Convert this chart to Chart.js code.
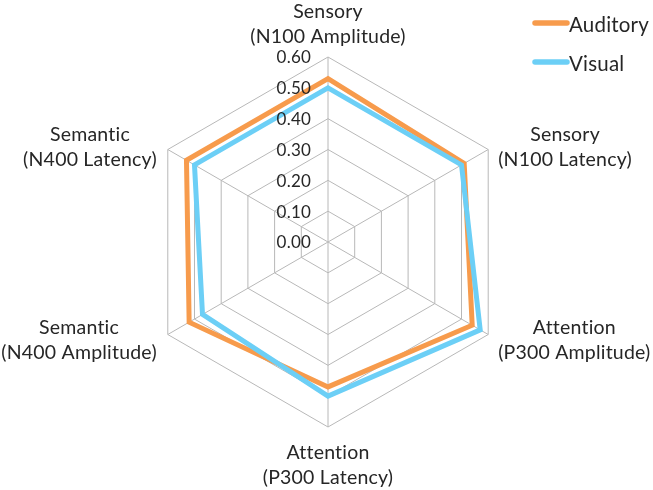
<!DOCTYPE html>
<html>
<head>
<meta charset="utf-8">
<script src="https://cdn.jsdelivr.net/npm/chart.js@4.4.1/dist/chart.umd.min.js"></script>
<style>
  html, body { margin: 0; padding: 0; background: #ffffff; }
  #wrap { width: 653px; height: 490px; position: relative; }
</style>
</head>
<body>
<div id="wrap"><canvas id="c" width="653" height="490"></canvas></div>
<script>
const categories = [
  ["Sensory", "(N100 Amplitude)"],
  ["Sensory", "(N100 Latency)"],
  ["Attention", "(P300 Amplitude)"],
  ["Attention", "(P300 Latency)"],
  ["Semantic", "(N400 Amplitude)"],
  ["Semantic", "(N400 Latency)"]
];
const seriesNames = ["Auditory", "Visual"];
const auditory = [0.53, 0.51, 0.54, 0.47, 0.52, 0.53];
const visual = [0.50, 0.50, 0.57, 0.50, 0.47, 0.50];
const tickValues = [0.00, 0.10, 0.20, 0.30, 0.40, 0.50, 0.60];
const tickLabels = ["0.00", "0.10", "0.20", "0.30", "0.40", "0.50", "0.60"];

const FONT = "Lato, 'Open Sans', sans-serif";
const TEXT_COLOR = "#262626";
const ORANGE = "#F79B4C";
const BLUE = "#6CCFF6";

const labelPlugin = {
  id: "customLabels",
  afterDraw(chart) {
    const ctx = chart.ctx;
    const scale = chart.scales.r;
    ctx.save();
    ctx.fillStyle = TEXT_COLOR;
    ctx.textBaseline = "middle";
    if ("letterSpacing" in ctx) ctx.letterSpacing = "0.2px";

    // tick labels, to the left of the vertical axis
    ctx.font = "17px " + FONT;
    ctx.textAlign = "right";
    tickValues.forEach((v, i) => {
      const d = scale.getDistanceFromCenterForValue(v);
      ctx.fillText(tickLabels[i], scale.xCenter - 17, scale.yCenter - d + 1);
    });

    // point labels
    ctx.font = "19.5px " + FONT;
    ctx.textAlign = "center";
    categories.forEach((lines, i) => {
      const p = scale.getPointPosition(i, scale.drawingArea);
      const w = Math.max(...lines.map(t => ctx.measureText(t).width));
      let cx = p.x, ys;
      if (i === 0) { ys = [p.y - 45, p.y - 20]; }
      else if (i === 3) { ys = [p.y + 26, p.y + 51]; }
      else {
        const right = (i === 1 || i === 2);
        cx = right ? p.x + 10 + w / 2 : p.x - 11 - w / 2;
        ys = (i === 1 || i === 5) ? [p.y - 15, p.y + 10] : [p.y - 7, p.y + 18];
      }
      lines.forEach((t, k) => ctx.fillText(t, cx, ys[k]));
    });

    // legend
    const items = [
      { name: seriesNames[0], color: ORANGE, y: 23 },
      { name: seriesNames[1], color: BLUE, y: 62 }
    ];
    ctx.textAlign = "left";
    ctx.font = "20.5px " + FONT;
    items.forEach(it => {
      ctx.strokeStyle = it.color;
      ctx.lineWidth = 5.5;
      ctx.lineCap = "round";
      ctx.beginPath();
      ctx.moveTo(535, it.y);
      ctx.lineTo(567, it.y);
      ctx.stroke();
      ctx.fillText(it.name, 569, it.y + 2);
    });
    ctx.restore();
  }
};

new Chart(document.getElementById("c"), {
  type: "radar",
  data: {
    labels: categories,
    datasets: [
      {
        label: seriesNames[0],
        data: auditory,
        borderColor: ORANGE,
        backgroundColor: "rgba(0,0,0,0)",
        borderWidth: 5,
        pointRadius: 0,
        pointHoverRadius: 0,
        fill: false,
        order: 1,
        borderJoinStyle: "miter"
      },
      {
        label: seriesNames[1],
        data: visual,
        borderColor: BLUE,
        backgroundColor: "rgba(0,0,0,0)",
        borderWidth: 5,
        pointRadius: 0,
        pointHoverRadius: 0,
        fill: false,
        order: 0,
        borderJoinStyle: "miter"
      }
    ]
  },
  options: {
    responsive: false,
    animation: false,
    layout: { padding: { top: 57, bottom: 63, left: 3, right: 0 } },
    plugins: {
      legend: { display: false },
      tooltip: { enabled: false }
    },
    scales: {
      r: {
        min: 0,
        max: 0.6,
        ticks: { display: false, stepSize: 0.1 },
        pointLabels: { display: false },
        grid: { color: "#B8B8B8", lineWidth: 1 },
        angleLines: { color: "#B8B8B8", lineWidth: 1 }
      }
    }
  },
  plugins: [labelPlugin]
});
</script>
</body>
</html>
